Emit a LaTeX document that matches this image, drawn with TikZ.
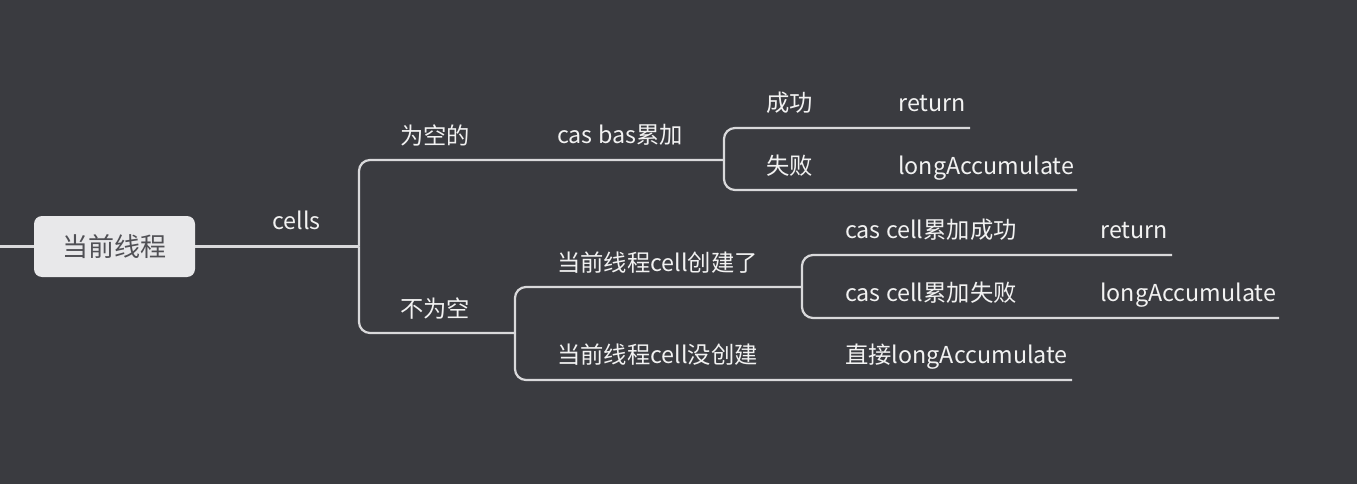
\documentclass[tikz,border=0pt]{standalone}
\usepackage{fontspec}
\setmainfont{Noto Sans CJK SC}
\definecolor{bg}{HTML}{3A3B40}
\definecolor{ln}{HTML}{D9D9DB}
\definecolor{tx}{HTML}{F2F2F2}
\definecolor{rootfill}{HTML}{E8E8EA}
\definecolor{roottx}{HTML}{505055}
\begin{document}
\begin{tikzpicture}[x=1pt,y=-1pt,
  conn/.style={draw=ln,line width=2.2pt,rounded corners=11pt},
  lbl/.style={anchor=base west,inner sep=0pt,text=tx,font=\fontsize{23.3}{27}\selectfont},
  rootbox/.style={fill=rootfill,rounded corners=8pt,minimum width=161pt,minimum height=61pt,text=roottx,font=\fontsize{26}{30}\selectfont,inner sep=0pt}]
\fill[bg] (0,0) rectangle (1357,484);
\useasboundingbox (0,0) rectangle (1357,484);
% root
\node[rootbox] (root) at (114.5,246.5) {当前线程};
\coordinate (r0) at (0,246.5);
\draw[conn] (r0) -- (root.west);
% level 1
\coordinate (j1) at (359,246.5);
\node[lbl] (cells) at (272,229) {cells};
\draw[conn] (root.east) -- (j1);
% 为空的 branch
\coordinate (j2) at (724,160);
\node[lbl] (empty) at (400,145) {为空的};
\node[lbl] (casbas) at (557,143) {cas bas累加};
\draw[conn] (j1) |- (j2);
\coordinate (e1) at (970,128);
\coordinate (e2) at (1077,190);
\node[lbl] (succ) at (766,112) {成功};
\node[lbl] (ret1) at (898,112) {return};
\node[lbl] (fail) at (766,175) {失败};
\node[lbl] (la1) at (898,175) {longAccumulate};
\draw[conn] (j2) |- (e1);
\draw[conn] (j2) |- (e2);
% 不为空 branch
\coordinate (j3) at (515,333);
\node[lbl] (nonempty) at (400,317) {不为空};
\draw[conn] (j1) |- (j3);
\coordinate (j4) at (802,287);
\coordinate (e3) at (1072,380);
\node[lbl] (created) at (557,271) {当前线程cell创建了};
\node[lbl] (notcreated) at (557,363) {当前线程cell没创建};
\node[lbl] (direct) at (845,363) {直接longAccumulate};
\draw[conn] (j3) |- (j4);
\draw[conn] (j3) |- (e3);
\coordinate (e4) at (1172,255);
\coordinate (e5) at (1279,318);
\node[lbl] (csucc) at (845,238) {cas cell累加成功};
\node[lbl] (ret2) at (1100,238) {return};
\node[lbl] (cfail) at (845,301) {cas cell累加失败};
\node[lbl] (la2) at (1100,301) {longAccumulate};
\draw[conn] (j4) |- (e4);
\draw[conn] (j4) |- (e5);
\end{tikzpicture}
\end{document}
